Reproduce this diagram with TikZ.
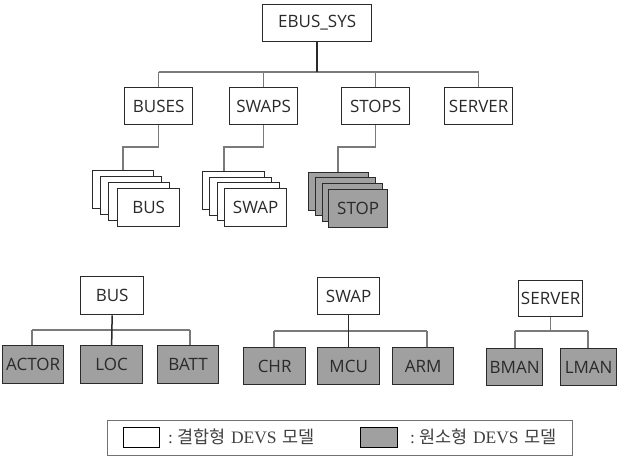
\documentclass[tikz,border=0pt]{standalone}
\usepackage{fontspec}
\newfontfamily\boxfont{Open Sans}
\newfontfamily\krfont{Noto Sans CJK KR}
\newfontfamily\serfont{Liberation Serif}
\definecolor{boxgray}{HTML}{A0A0A0}
\definecolor{linegray}{HTML}{7A7A7A}
\definecolor{edge}{HTML}{2A2A2A}
\begin{document}
\begin{tikzpicture}[x=1pt,y=-1pt,
  box/.style={draw=edge, line width=1.3pt, fill=white, inner sep=0pt, anchor=north west,
    font=\boxfont\fontsize{17}{19}\selectfont, text=edge},
  atom/.style={box, fill=boxgray},
  conn/.style={draw=linegray, line width=1.1pt},
  trunk/.style={draw=edge, line width=1.5pt},
  legtext/.style={anchor=west, inner sep=0pt, font=\fontsize{17.5}{19}\selectfont, text=black!75}
]
\useasboundingbox (0,0) rectangle (622,461);

% ---- top hierarchy ----
\node[box, minimum width=109pt, minimum height=37pt] (ebus) at (262,4) {EBUS\_SYS};
\node[box, minimum width=68pt, minimum height=37pt] (buses) at (124,87) {BUSES};
\node[box, minimum width=68pt, minimum height=37pt] (swaps) at (229,87) {SWAPS};
\node[box, minimum width=68pt, minimum height=37pt] (stops) at (341,87) {STOPS};
\node[box, minimum width=68pt, minimum height=37pt] (server) at (444,87) {SERVER};

\coordinate (busL) at (buses.north |- 0,72);
\coordinate (busR) at (server.north |- 0,72);
\draw[conn] (busL) -- (busR);
\draw[conn] (busL) -- (buses.north);
\draw[conn] (swaps.north |- busL) -- (swaps.north);
\draw[conn] (stops.north |- busL) -- (stops.north);
\draw[conn] (busR) -- (server.north);
\draw[trunk] (ebus.south) -- (ebus.south |- busL);

% BUS stack
\node[box, minimum width=61pt, minimum height=38pt] (bus1) at (92,170) {};
\node[box, minimum width=61pt, minimum height=38pt] (bus2) at (100,176) {};
\node[box, minimum width=61pt, minimum height=38pt] (bus3) at (108,182) {};
\node[box, minimum width=62pt, minimum height=38pt] (bus4) at (117,188) {BUS};
\coordinate (bj) at (123,147);
\draw[conn] (buses.south) |- (bj) -- (bj |- bus1.north);

% SWAP stack
\node[box, minimum width=62pt, minimum height=38pt] (swap1) at (202,171) {};
\node[box, minimum width=62pt, minimum height=38pt] (swap2) at (209,177) {};
\node[box, minimum width=62pt, minimum height=38pt] (swap3) at (217,182) {};
\node[box, minimum width=62pt, minimum height=38pt] (swap4) at (224,188) {SWAP};
\coordinate (sj) at (224,147);
\draw[conn] (swaps.south) |- (sj) -- (sj |- swap1.north);

% STOP stack
\node[atom, minimum width=60pt, minimum height=38pt] (stop1) at (308,172) {};
\node[atom, minimum width=60pt, minimum height=38pt] (stop2) at (315,177) {};
\node[atom, minimum width=60pt, minimum height=38pt] (stop3) at (322,183) {};
\node[atom, minimum width=59pt, minimum height=38pt] (stop4) at (328,189) {STOP};
\coordinate (tj) at (338,147);
\draw[conn] (stops.south) |- (tj) -- (tj |- stop1.north);

% ---- BUS decomposition ----
\node[box, minimum width=63pt, minimum height=38pt] (bbus) at (80,276) {BUS};
\node[atom, minimum width=61pt, minimum height=38pt] (actor) at (2,345) {ACTOR};
\node[atom, minimum width=62pt, minimum height=38pt] (loc) at (80,345) {LOC};
\node[atom, minimum width=61pt, minimum height=38pt] (batt) at (157,345) {BATT};
\coordinate (b1) at (32,330);
\coordinate (b2) at (190,330);
\draw[conn] (b1) -- (b2);
\draw[conn] (b1) -- (b1 |- actor.north);
\draw[conn] (b2) -- (b2 |- batt.north);
\draw[trunk] (bbus.south) -- (loc.north);

% ---- SWAP decomposition ----
\node[box, minimum width=62pt, minimum height=37pt] (bswap) at (317,277) {SWAP};
\node[atom, minimum width=62pt, minimum height=37pt] (chr) at (243,347) {CHR};
\node[atom, minimum width=62pt, minimum height=37pt] (mcu) at (317,347) {MCU};
\node[atom, minimum width=61pt, minimum height=37pt] (arm) at (392,347) {ARM};
\coordinate (s1) at (274,331);
\coordinate (s2) at (427,331);
\draw[conn] (s1) -- (s2);
\draw[conn] (s1) -- (s1 |- chr.north);
\draw[conn] (s2) -- (s2 |- arm.north);
\draw[trunk] (bswap.south) -- (mcu.north);

% ---- SERVER decomposition ----
\node[box, minimum width=64pt, minimum height=36pt] (bserver) at (518,280) {SERVER};
\node[atom, minimum width=56pt, minimum height=37pt] (bman) at (486,348) {BMAN};
\node[atom, minimum width=56pt, minimum height=37pt] (lman) at (560,348) {LMAN};
\coordinate (v1) at (515,331);
\coordinate (v2) at (588,331);
\draw[conn] (v1) -- (v2);
\draw[conn] (v1) -- (v1 |- bman.north);
\draw[conn] (v2) -- (v2 |- lman.north);
\draw[conn] (bserver.south) -- (bserver.south |- v1);

% ---- legend ----
\node[draw=black!55, line width=1.1pt, anchor=north west, minimum width=465pt, minimum height=35pt, inner sep=0pt] (legend) at (107,420) {};
\node[draw=black, line width=1.1pt, fill=white, anchor=north west, minimum width=36pt, minimum height=20pt, inner sep=0pt] (lw) at (123,427) {};
\node[draw=black, line width=1.1pt, fill=boxgray, anchor=north west, minimum width=37pt, minimum height=20pt, inner sep=0pt] (lg) at (360,427) {};
\node[legtext] (lwt) at (168,437) {{\serfont :\ }{\krfont 결합형} {\serfont DEVS} {\krfont 모델}};
\node[legtext] (lgt) at (410,437) {{\serfont :\ }{\krfont 원소형} {\serfont DEVS} {\krfont 모델}};
\end{tikzpicture}
\end{document}
